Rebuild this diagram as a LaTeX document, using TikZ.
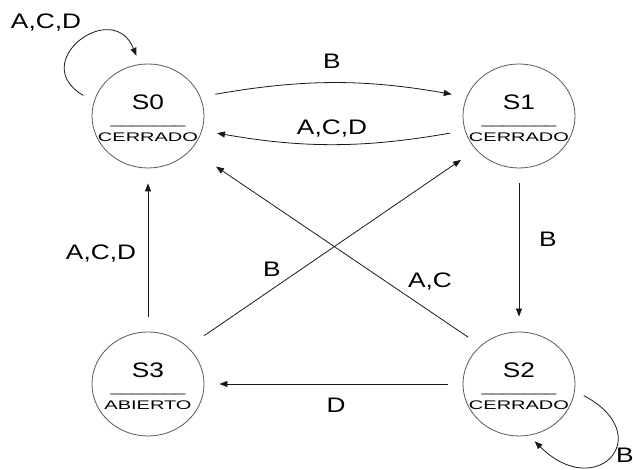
\documentclass[tikz,border=0pt]{standalone}
\usepackage{fontspec}
\setmainfont{Liberation Sans}[FakeStretch=1.25]
\newfontfamily\subfont{Liberation Sans}[FakeStretch=1.6]
\usetikzlibrary{shapes.geometric,arrows.meta}
\tikzstyle{state} = [draw=black!65, line width=0.8pt, ellipse, minimum width=112pt, minimum height=104pt, inner sep=0pt]
\tikzstyle{sname} = [anchor=base, yshift=6pt, inner sep=0pt, font=\fontsize{21}{21}\selectfont]
\tikzstyle{sbar} = [anchor=base, yshift=-9pt, inner sep=0pt, font=\subfont\fontsize{12}{12}\selectfont]
\tikzstyle{sout} = [anchor=base, yshift=-26pt, inner sep=0pt, font=\subfont\fontsize{12.5}{12.5}\selectfont]
\tikzstyle{trans} = [draw=black!90, line width=0.8pt, -{Triangle[length=8pt,width=6pt]}, shorten >=15pt, shorten <=15pt]
\tikzstyle{lbl} = [anchor=base, inner sep=0pt, font=\fontsize{21}{21}\selectfont]

\begin{document}
\begin{tikzpicture}[x=1pt,y=1pt]
    \useasboundingbox (0,0) rectangle (633,470);
    % states
    \node[state](S0) at (148,354){};
    \node[state](S1) at (519,354){};
    \node[state](S2) at (519,86){};
    \node[state](S3) at (148,86){};
    \node[sname](S0n) at (S0.center){S0};
    \node[sbar](S0b) at (S0.center){\_\_\_\_\_\_\_};
    \node[sout](S0o) at (S0.center){CERRADO};
    \node[sname](S1n) at (S1.center){S1};
    \node[sbar](S1b) at (S1.center){\_\_\_\_\_\_\_};
    \node[sout](S1o) at (S1.center){CERRADO};
    \node[sname](S2n) at (S2.center){S2};
    \node[sbar](S2b) at (S2.center){\_\_\_\_\_\_\_};
    \node[sout](S2o) at (S2.center){CERRADO};
    \node[sname](S3n) at (S3.center){S3};
    \node[sbar](S3b) at (S3.center){\_\_\_\_\_\_\_};
    \node[sout](S3o) at (S3.center){ABIERTO};
    % transitions
    \draw[trans](S0.20) to[bend left=10] (S1.160);
    \draw[trans](S1.195) to[bend left=10] (S0.-15);
    \draw[trans](S1)--(S2);
    \draw[trans](S2)--(S3);
    \draw[trans](S3)--(S0);
    \draw[trans,shorten >=30pt](S2.135)--(S0.-38);
    \draw[trans,shorten <=20pt,shorten >=18pt](S3.43)--(S1.218);
    \draw[trans,shorten <=12pt,shorten >=9pt](S0.165) .. controls +(150:78) and +(112:72) .. (S0.99);
    \draw[trans,shorten <=10pt,shorten >=8pt](S2.-7) .. controls +(-28:95) and +(-45:95) .. (S2.-79);
    % labels
    \node[lbl](l00) at (46,441){A,C,D};
    \node[lbl](l01) at (332,401){B};
    \node[lbl](l10) at (332,335){A,C,D};
    \node[lbl](l12) at (548,223){B};
    \node[lbl](l31) at (272,193){B};
    \node[lbl](l20) at (430,182){A,C};
    \node[lbl](l30) at (101,210){A,C,D};
    \node[lbl](l23) at (336,57){D};
    \node[lbl,anchor=base west](l22) at (616,7){B};
  \end{tikzpicture}
\end{document}
